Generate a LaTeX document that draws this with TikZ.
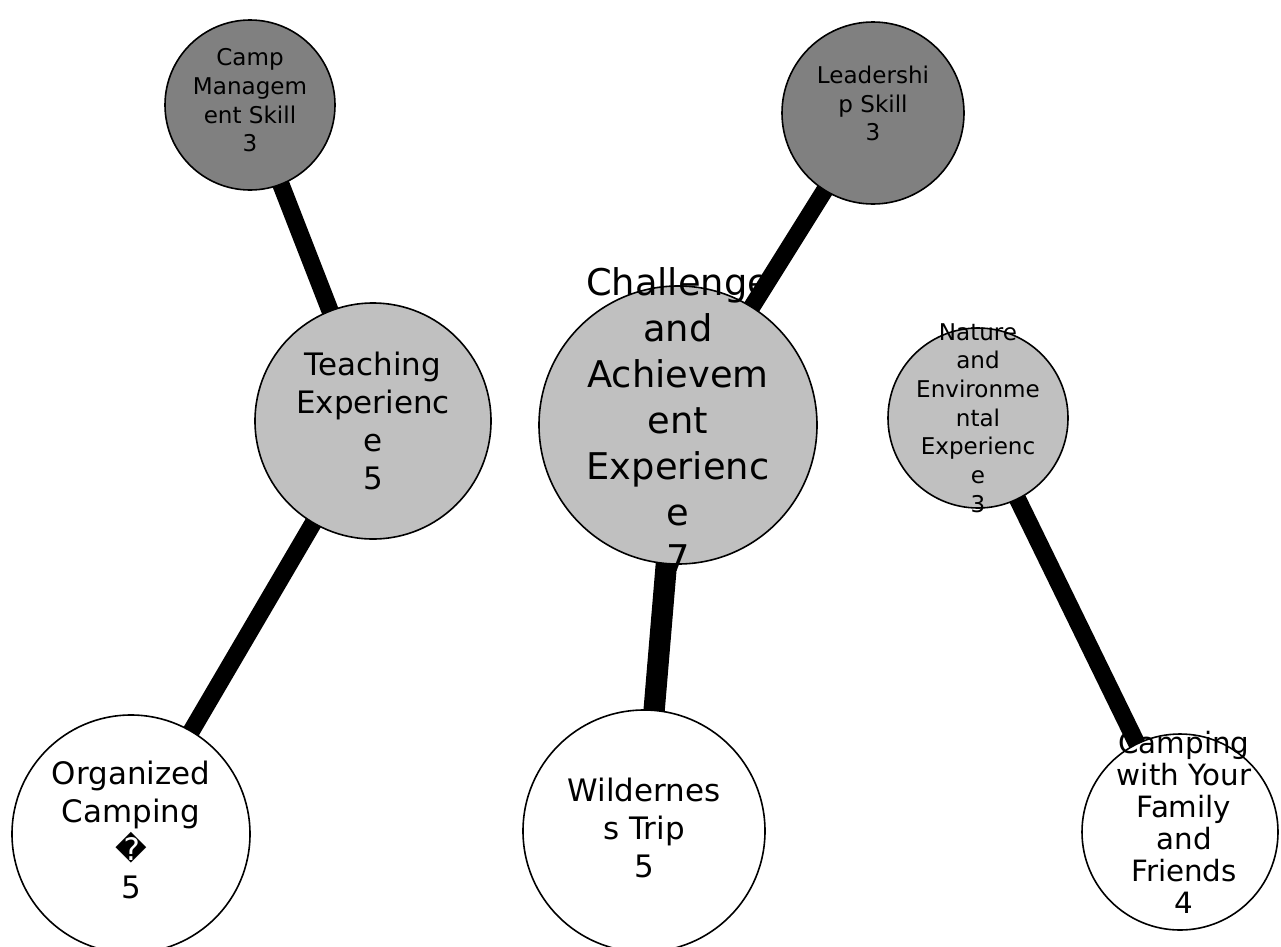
\documentclass[tikz,border=0pt]{standalone}
\usepackage{fontspec}
\setmainfont{DejaVu Sans}
\usetikzlibrary{positioning}
\definecolor{skillgray}{RGB}{128,128,128}
\definecolor{expgray}{RGB}{192,192,192}

\begin{document}
\begin{tikzpicture}[x=0.75pt,y=-0.75pt,bubble/.style={circle,draw,line width=1.2pt,inner sep=0pt},skill/.style={bubble,fill=skillgray},exper/.style={bubble,fill=expgray},trip/.style={bubble,fill=white},
	tag/.style={align=center,inner sep=0pt},tagS/.style={tag,font=\fontsize{17.3}{21.5}\selectfont},tagM/.style={tag,font=\fontsize{23.2}{28.5}\selectfont},tagF/.style={tag,font=\fontsize{22}{24}\selectfont},tagL/.style={tag,font=\fontsize{27.6}{34.5}\selectfont},link/.style={line width=13pt}]
	
	\useasboundingbox (0,0) rectangle (1281,946);
	
	\node[skill,minimum size=127.5pt] (mgmt) at (250,105) {};
	\node[skill,minimum size=136.5pt] (lead) at (873,113) {};
	\node[exper,minimum size=177pt] (teach) at (373,421) {};
	\node[exper,minimum size=208.5pt] (chal) at (678,425) {};
	\node[exper,minimum size=135pt] (nature) at (978,418) {};
	\node[trip,minimum size=178.5pt] (orgc) at (131,834) {};
	\node[trip,minimum size=181.5pt] (wild) at (644,831) {};
	\node[trip,minimum size=147pt] (family) at (1180,832) {};
	
	\node[tagS] (mgmt-t) at ([yshift=3.5pt]mgmt) {Camp\\Managem\\ent Skill\\3};
	\node[tagS] (lead-t) at ([yshift=7pt]lead) {Leadershi\\p Skill\\3};
	\node[tagM] (teach-t) at (teach) {Teaching\\Experienc\\e\\5};
	\node[tagL] (chal-t) at ([yshift=3.75pt]chal) {Challenge\\and\\Achievem\\ent\\Experienc\\e\\7};
	\node[tagS] (nature-t) at (nature) {Nature\\and\\Environme\\ntal\\Experienc\\e\\3};
	\node[tagM] (orgc-t) at ([yshift=3pt]orgc) {Organized\\Camping\\\char"FFFD\\5};
	\node[tagM] (wild-t) at ([yshift=2pt]wild) {Wildernes\\s Trip\\5};
	\node[tagF] (family-t) at ([xshift=3pt,yshift=7.5pt]family) {Camping\\with Your\\Family\\and\\Friends\\4};
	
	\begin{scope}[even odd rule]
		\clip (0,0) rectangle (1281,946) (mgmt) circle (63.75pt) (lead) circle (68.25pt) (teach) circle (88.5pt) (chal) circle (104.25pt) (nature) circle (67.5pt) (orgc) circle (89.25pt) (wild) circle (90.75pt) (family) circle (73.5pt);
		\draw[link] (mgmt.center) -- (teach.center);
		\draw[link] (lead.center) -- (chal.center);
		\draw[link] (teach.center) -- (orgc.center);
		\draw[link,line width=16pt] (chal.center) -- (wild.center);
		\draw[link] (nature.center) -- (family.center);
	\end{scope}
\end{tikzpicture}
\end{document}
